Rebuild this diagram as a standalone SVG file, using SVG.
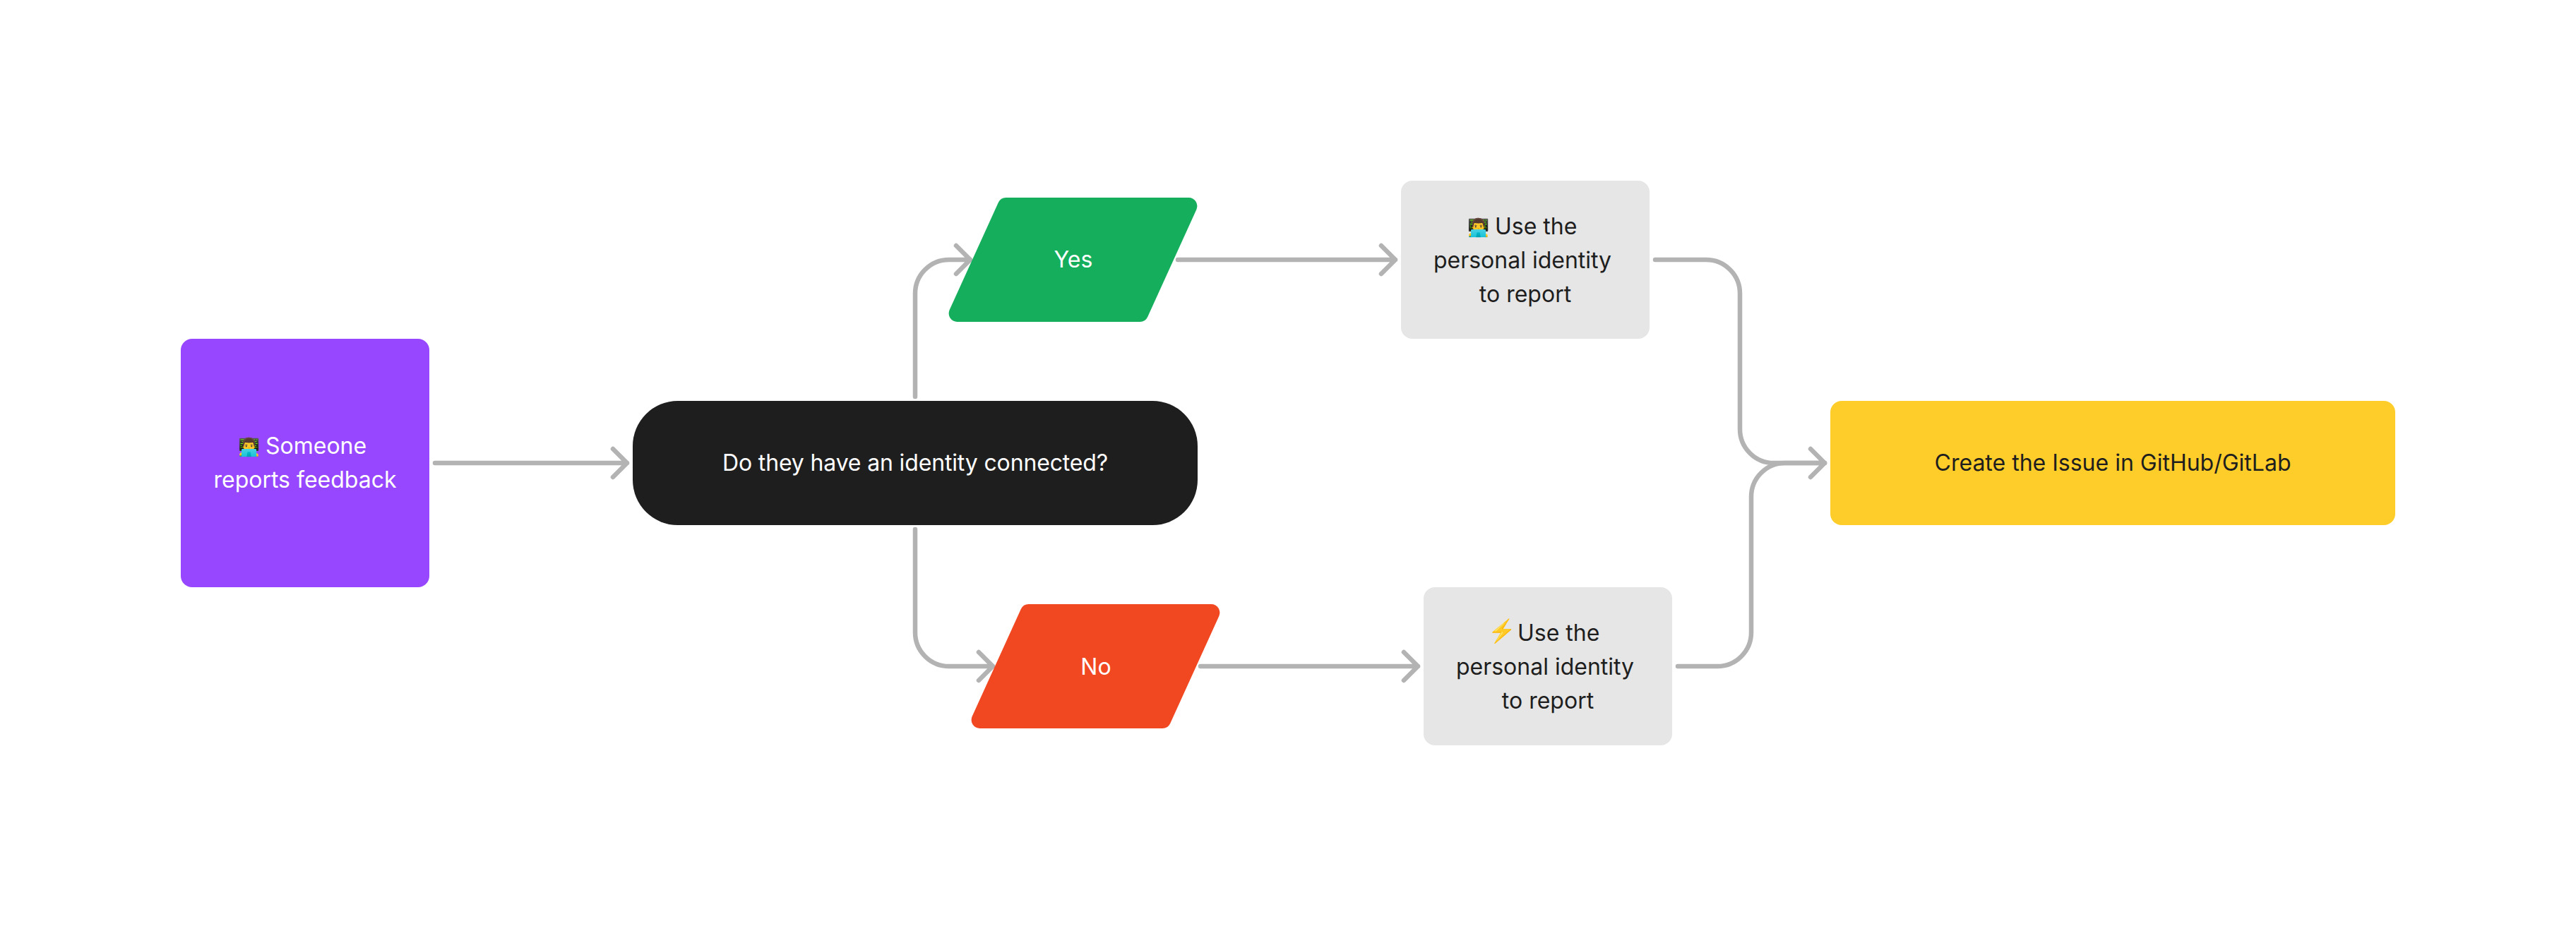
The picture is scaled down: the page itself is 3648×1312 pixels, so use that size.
<svg xmlns="http://www.w3.org/2000/svg" width="3648" height="1312" viewBox="0 0 3648 1312">
<defs>
<style>
text{font-family:"Inter","Noto Sans",sans-serif;font-size:32px;text-anchor:middle}
text.s{text-anchor:start}
.e{font-size:25px}
.b{font-size:32px}
.lt{fill:#fff}.dk{fill:#1e1e1e}
.c{fill:none;stroke:#b3b3b3;stroke-width:6.5;stroke-linecap:round;stroke-linejoin:round}
.g{fill:#e6e6e6}
</style>
<path id="para" d="M1424.7 280H1683.4A12 12 0 0 1 1694.3 296.9L1625.2 449A12 12 0 0 1 1614.3 456H1355.6A12 12 0 0 1 1344.7 439.1L1413.8 287A12 12 0 0 1 1424.7 280Z"/>
</defs>
<rect width="3648" height="1312" fill="#fff"/>
<g id="connectors" class="c">
<path d="M616 656H888M868 636L888 656L868 676"/>
<path d="M1296 562V416A48 48 0 0 1 1344 368H1374M1354 348L1374 368L1354 388"/>
<path d="M1296 750V896A48 48 0 0 0 1344 944H1406M1386 924L1406 944L1386 964"/>
<path d="M1668 368H1976M1956 348L1976 368L1956 388"/>
<path d="M1700 944H2008M1988 924L2008 944L1988 964"/>
<path d="M2344 368H2416A48 48 0 0 1 2464 416V608A48 48 0 0 0 2512 656H2584M2564 636L2584 656L2564 676"/>
<path d="M2376 944H2432A48 48 0 0 0 2480 896V704A48 48 0 0 1 2528 656H2584"/>
</g>
<g id="node-feedback"><rect x="256" y="480" width="352" height="352" rx="16" fill="#9747ff"/>
<text class="lt s" x="337" y="642"><tspan class="e">👨‍💻</tspan> <tspan x="376" y="643">Someone</tspan></text><text class="lt" x="432" y="691">reports feedback</text></g>
<g id="node-question"><rect x="896" y="568" width="800" height="176" rx="64" fill="#1e1e1e"/>
<text class="lt" x="1296" y="667" letter-spacing="-0.15">Do they have an identity connected?</text></g>
<g id="node-yes"><use href="#para" fill="#14ae5c"/>
<text class="lt" x="1520" y="379">Yes</text></g>
<g id="node-no"><use href="#para" x="32" y="576" fill="#f24822"/>
<text class="lt" x="1552" y="956">No</text></g>
<g id="node-personal"><rect class="g" x="1984" y="256" width="352" height="224" rx="16"/>
<text class="dk s" x="2078" y="331"><tspan class="e">👨‍💻</tspan> <tspan x="2117" y="332">Use the</tspan></text><text class="dk" x="2156" y="380">personal identity</text><text class="dk" x="2160" y="428">to report</text></g>
<g id="node-bolt"><rect class="g" x="2016" y="832" width="352" height="224" rx="16"/>
<text class="dk s" x="2107" y="905"><tspan class="b">⚡</tspan> <tspan x="2149" y="908">Use the</tspan></text><text class="dk" x="2188" y="956">personal identity</text><text class="dk" x="2192" y="1004">to report</text></g>
<g id="node-issue"><rect x="2592" y="568" width="800" height="176" rx="16" fill="#ffcd29"/>
<text class="dk" x="2992" y="667">Create the Issue in GitHub/GitLab</text></g>
</svg>
